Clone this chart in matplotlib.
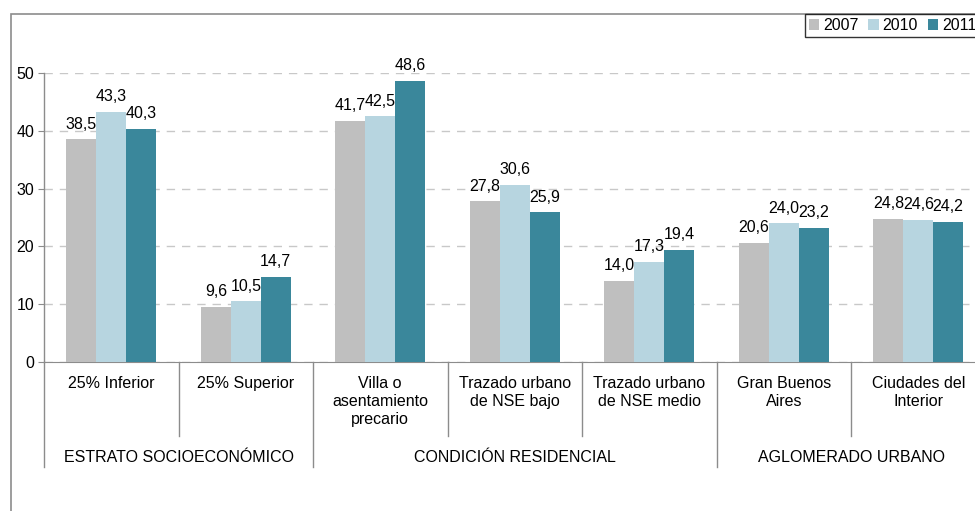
import matplotlib.pyplot as plt
from matplotlib.patches import Rectangle, Patch
import numpy as np

plt.rcParams['font.family'] = ['Liberation Sans', 'DejaVu Sans']

categorias = ['25% Inferior', '25% Superior', 'Villa o\nasentamiento\nprecario',
              'Trazado urbano\nde NSE bajo', 'Trazado urbano\nde NSE medio',
              'Gran Buenos\nAires', 'Ciudades del\nInterior']
grupos = ['ESTRATO SOCIOECONÓMICO', 'CONDICIÓN RESIDENCIAL', 'AGLOMERADO URBANO']
grupo_limites = [(-0.5, 1.5), (1.5, 4.5), (4.5, 6.5)]
anios = ['2007', '2010', '2011']
v2007 = [38.5, 9.6, 41.7, 27.8, 14.0, 20.6, 24.8]
v2010 = [43.3, 10.5, 42.5, 30.6, 17.3, 24.0, 24.6]
v2011 = [40.3, 14.7, 48.6, 25.9, 19.4, 23.2, 24.2]
colores = ['#bfbfbf', '#b7d5e0', '#3a879b']

W, H = 975, 511
fs = 11.5
fig = plt.figure(figsize=(W / 100, H / 100), dpi=100)

# marco del area del grafico (se sale por la derecha y abajo)
fig.patches.append(Rectangle((11 / W, -0.1), 1.2, 1 - 14 / H + 0.1,
                             transform=fig.transFigure, fill=False,
                             edgecolor='#8c8c8c', linewidth=1.2))

ax_left, ax_right = 44 / W, 985.5 / W
ax_bottom, ax_top = 1 - 362 / H, 1 - 73 / H
ax = fig.add_axes([ax_left, ax_bottom, ax_right - ax_left, ax_top - ax_bottom])

x = np.arange(len(categorias))
w = 0.222
for k, (vals, col) in enumerate(zip([v2007, v2010, v2011], colores)):
    pos = x + (k - 1) * w
    ax.bar(pos, vals, width=w, color=col, zorder=3)
    for px, v in zip(pos, vals):
        ax.annotate(f'{v:.1f}'.replace('.', ','), (px, v), xytext=(0, 5.5),
                    textcoords='offset points', ha='center', va='bottom',
                    fontsize=fs)

ax.set_xlim(-0.5, 6.5)
ax.set_ylim(0, 50)
ax.set_yticks([0, 10, 20, 30, 40, 50])
ax.yaxis.grid(True, linestyle=(0, (6, 5)), color='#c8c8c8', linewidth=1, zorder=0)
ax.set_xticks([])
ax.tick_params(axis='y', length=4, color='#8c8c8c', labelsize=fs, pad=3)
for s in ['top', 'right', 'left']:
    ax.spines[s].set_visible(False)
ax.spines['bottom'].set_color('#8c8c8c')

# etiquetas de categoria y separadores
hpx = (ax_top - ax_bottom) * H
tr = ax.get_xaxis_transform()
ax.plot([-0.5, -0.5], [1, 0], transform=tr, color='#8c8c8c', linewidth=1,
        clip_on=False)
for i, c in enumerate(categorias):
    ax.text(i, -(376 - 362) / hpx, c, transform=tr, ha='center', va='top',
            fontsize=fs, linespacing=1.25)
limites_grupo = {e for par in grupo_limites for e in par}
for b in np.arange(-0.5, 7, 1):
    largo = 467 if b in limites_grupo else 436
    ax.plot([b, b], [0, -(largo - 362) / hpx], transform=tr, color='#8c8c8c',
            linewidth=1, clip_on=False)
for (a, b), g in zip(grupo_limites, grupos):
    ax.text((a + b) / 2, -(457 - 362) / hpx, g, transform=tr, ha='center',
            va='center', fontsize=fs)

handles = [Patch(facecolor=c, edgecolor='none') for c in colores]
leg = fig.legend(handles, anios, loc='upper left',
                 bbox_to_anchor=(805 / W, 1 - 14 / H), ncol=3, fontsize=fs,
                 frameon=True, fancybox=False, borderaxespad=0,
                 handlelength=0.65, handleheight=0.65, handletextpad=0.25,
                 columnspacing=0.6, borderpad=0.25)
leg.get_frame().set_edgecolor('black')
leg.get_frame().set_linewidth(1)

fig.savefig('out.png', dpi=100)
